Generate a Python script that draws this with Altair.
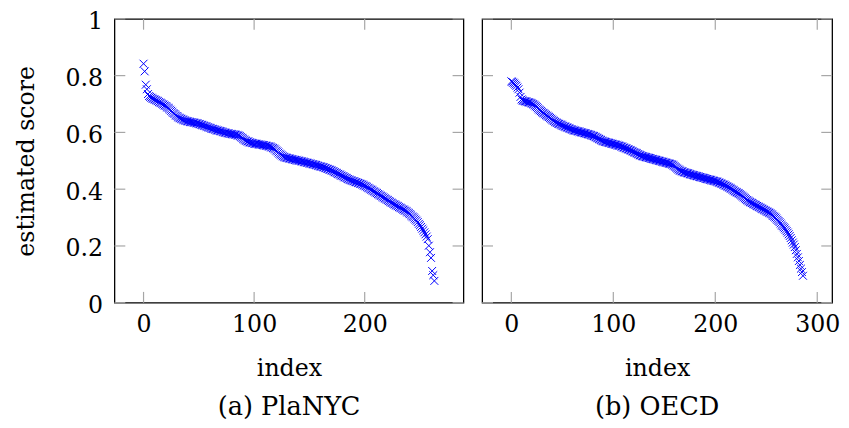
import altair as alt
import pandas as pd

# (a) PlaNYC – estimated scores, sorted (index 0..263)
planyc_scores = [
    0.842, 0.815, 0.768, 0.752, 0.735, 0.728, 0.725, 0.722, 0.720, 0.718,
    0.716, 0.714, 0.712, 0.710, 0.707, 0.705, 0.703, 0.700, 0.698, 0.695,
    0.693, 0.690, 0.687, 0.684, 0.680, 0.676, 0.672, 0.668, 0.665, 0.661,
    0.658, 0.655, 0.652, 0.650, 0.648, 0.646, 0.644, 0.643, 0.641, 0.640,
    0.639, 0.638, 0.637, 0.636, 0.636, 0.635, 0.634, 0.633, 0.632, 0.631,
    0.630, 0.629, 0.627, 0.626, 0.625, 0.623, 0.622, 0.620, 0.619, 0.617,
    0.616, 0.614, 0.613, 0.612, 0.611, 0.609, 0.608, 0.607, 0.606, 0.605,
    0.604, 0.603, 0.601, 0.600, 0.599, 0.598, 0.597, 0.596, 0.595, 0.595,
    0.594, 0.593, 0.593, 0.592, 0.591, 0.590, 0.589, 0.587, 0.584, 0.581,
    0.578, 0.575, 0.572, 0.570, 0.568, 0.567, 0.565, 0.564, 0.563, 0.562,
    0.561, 0.560, 0.560, 0.559, 0.558, 0.557, 0.557, 0.556, 0.555, 0.555,
    0.554, 0.553, 0.552, 0.551, 0.550, 0.549, 0.547, 0.545, 0.543, 0.540,
    0.536, 0.533, 0.529, 0.525, 0.522, 0.519, 0.516, 0.514, 0.512, 0.511,
    0.510, 0.509, 0.508, 0.507, 0.506, 0.505, 0.504, 0.503, 0.502, 0.502,
    0.501, 0.500, 0.499, 0.498, 0.497, 0.496, 0.495, 0.494, 0.493, 0.492,
    0.491, 0.490, 0.489, 0.488, 0.487, 0.486, 0.485, 0.484, 0.482, 0.481,
    0.480, 0.479, 0.478, 0.477, 0.475, 0.474, 0.472, 0.471, 0.469, 0.468,
    0.466, 0.464, 0.462, 0.460, 0.458, 0.456, 0.454, 0.452, 0.450, 0.448,
    0.446, 0.444, 0.442, 0.440, 0.438, 0.436, 0.434, 0.432, 0.431, 0.429,
    0.428, 0.426, 0.425, 0.424, 0.422, 0.421, 0.419, 0.418, 0.416, 0.414,
    0.412, 0.410, 0.408, 0.405, 0.403, 0.400, 0.398, 0.396, 0.393, 0.391,
    0.388, 0.386, 0.383, 0.381, 0.378, 0.376, 0.373, 0.371, 0.368, 0.366,
    0.363, 0.361, 0.358, 0.356, 0.353, 0.351, 0.348, 0.346, 0.344, 0.342,
    0.340, 0.337, 0.335, 0.333, 0.330, 0.328, 0.326, 0.324, 0.321, 0.318,
    0.315, 0.312, 0.308, 0.304, 0.301, 0.297, 0.293, 0.289, 0.284, 0.278,
    0.273, 0.267, 0.261, 0.255, 0.248, 0.241, 0.233, 0.224, 0.201, 0.178,
    0.158, 0.112, 0.097, 0.077,
]

# (b) OECD – estimated scores, sorted (index 0..286)
oecd_scores = [
    0.780, 0.778, 0.775, 0.772, 0.768, 0.764, 0.758, 0.752, 0.740, 0.725,
    0.716, 0.713, 0.711, 0.710, 0.709, 0.708, 0.707, 0.706, 0.705, 0.704,
    0.702, 0.700, 0.698, 0.695, 0.692, 0.689, 0.685, 0.681, 0.678, 0.675,
    0.672, 0.669, 0.667, 0.664, 0.661, 0.659, 0.656, 0.654, 0.651, 0.648,
    0.645, 0.642, 0.640, 0.637, 0.635, 0.633, 0.631, 0.630, 0.628, 0.626,
    0.625, 0.623, 0.621, 0.620, 0.618, 0.617, 0.615, 0.614, 0.612, 0.611,
    0.609, 0.608, 0.607, 0.606, 0.605, 0.604, 0.603, 0.602, 0.601, 0.600,
    0.599, 0.598, 0.597, 0.596, 0.595, 0.594, 0.593, 0.592, 0.591, 0.589,
    0.588, 0.587, 0.585, 0.583, 0.581, 0.579, 0.577, 0.575, 0.573, 0.571,
    0.569, 0.568, 0.567, 0.566, 0.565, 0.564, 0.563, 0.562, 0.561, 0.560,
    0.559, 0.558, 0.557, 0.556, 0.555, 0.554, 0.553, 0.552, 0.550, 0.549,
    0.547, 0.546, 0.544, 0.543, 0.541, 0.540, 0.538, 0.537, 0.535, 0.533,
    0.531, 0.529, 0.528, 0.526, 0.524, 0.522, 0.520, 0.519, 0.517, 0.516,
    0.515, 0.514, 0.513, 0.512, 0.511, 0.510, 0.509, 0.508, 0.507, 0.506,
    0.505, 0.504, 0.503, 0.502, 0.501, 0.500, 0.499, 0.498, 0.497, 0.496,
    0.495, 0.494, 0.493, 0.492, 0.491, 0.490, 0.489, 0.488, 0.486, 0.484,
    0.481, 0.478, 0.475, 0.472, 0.469, 0.467, 0.465, 0.463, 0.462, 0.460,
    0.459, 0.458, 0.457, 0.456, 0.455, 0.453, 0.452, 0.451, 0.450, 0.449,
    0.448, 0.447, 0.446, 0.445, 0.444, 0.443, 0.442, 0.441, 0.440, 0.439,
    0.438, 0.437, 0.436, 0.435, 0.434, 0.433, 0.432, 0.431, 0.430, 0.429,
    0.428, 0.427, 0.426, 0.424, 0.423, 0.421, 0.420, 0.418, 0.416, 0.415,
    0.413, 0.411, 0.409, 0.407, 0.405, 0.403, 0.401, 0.398, 0.396, 0.393,
    0.391, 0.389, 0.387, 0.385, 0.383, 0.380, 0.377, 0.374, 0.371, 0.368,
    0.365, 0.362, 0.360, 0.357, 0.355, 0.353, 0.351, 0.349, 0.347, 0.345,
    0.343, 0.341, 0.339, 0.337, 0.335, 0.333, 0.331, 0.329, 0.327, 0.325,
    0.323, 0.321, 0.319, 0.317, 0.315, 0.312, 0.309, 0.306, 0.303, 0.300,
    0.296, 0.292, 0.288, 0.284, 0.279, 0.274, 0.270, 0.266, 0.262, 0.257,
    0.252, 0.247, 0.241, 0.235, 0.228, 0.220, 0.212, 0.205, 0.196, 0.185,
    0.172, 0.160, 0.147, 0.133, 0.120, 0.108, 0.095,
]

x_ticks_a = [0, 100, 200]
x_ticks_b = [0, 100, 200, 300]
y_ticks = [0, 0.2, 0.4, 0.6, 0.8, 1]
x_domain_a = [-26.3, 289.3]
x_domain_b = [-28.6, 314.6]
titles = ["(a) PlaNYC", "(b) OECD"]

FONT = "DejaVu Serif"
FS = 24
FS_TITLE = 26
W_A, W_B, H = 354, 355, 288
TICK = 11
TICK_COLOR = "#a6a6a6"
XMARK = "M-1,-1L1,1M-1,1L1,-1"


def panel(scores, xticks, xdomain, title, width, show_y):
    df = pd.DataFrame({"index": list(range(len(scores))), "score": scores})
    xs = alt.Scale(domain=xdomain, nice=False, zero=False)
    ys = alt.Scale(domain=[0, 1], nice=False, zero=False)
    xaxis = alt.Axis(values=xticks, title="index", format="d", ticks=False,
                     domain=False, grid=False, labelPadding=10, titlePadding=21)
    if show_y:
        yaxis = alt.Axis(values=y_ticks, title="estimated score", format="~g",
                         ticks=False, domain=False, grid=False, labelOffset=3,
                         labelPadding=12, titlePadding=27)
    else:
        yaxis = None

    def X(field):
        return alt.X(field, scale=xs, axis=xaxis)

    def Y(field):
        return alt.Y(field, scale=ys, axis=yaxis)

    points = alt.Chart(df).mark_point(
        shape=XMARK, size=64, filled=False, strokeWidth=1, color="#0000ff", opacity=1
    ).encode(x=X("index:Q"), y=Y("score:Q"))

    xt = pd.DataFrame({"t": xticks})
    yt = pd.DataFrame({"t": y_ticks})
    rule = dict(color=TICK_COLOR, strokeWidth=1.2)
    bottom = alt.Chart(xt).mark_rule(**rule).encode(
        x=X("t:Q"), y=alt.value(H), y2=alt.value(H - TICK))
    top = alt.Chart(xt).mark_rule(**rule).encode(
        x=X("t:Q"), y=alt.value(0), y2=alt.value(TICK))
    left = alt.Chart(yt).mark_rule(**rule).encode(
        y=Y("t:Q"), x=alt.value(0), x2=alt.value(TICK))
    right = alt.Chart(yt).mark_rule(**rule).encode(
        y=Y("t:Q"), x=alt.value(width), x2=alt.value(width - TICK))

    return alt.layer(points, bottom, top, left, right).properties(
        width=width, height=H,
        title=alt.TitleParams(title, orient="bottom", anchor="middle", fontSize=FS_TITLE,
                              font=FONT, fontWeight="normal", color="black",
                              offset=14, baseline="top"),
    )


pa = panel(planyc_scores, x_ticks_a, x_domain_a, titles[0], W_A, True)
pb = panel(oecd_scores, x_ticks_b, x_domain_b, titles[1], W_B, False)

chart = alt.hconcat(pa, pb, spacing=15).properties(
    padding={"left": 6, "top": -2, "right": 0, "bottom": 0}
).configure_view(
    stroke="black", strokeWidth=1.3
).configure_axis(
    labelFont=FONT, labelFontSize=FS, labelColor="black",
    titleFont=FONT, titleFontSize=FS, titleColor="black", titleFontWeight="normal",
)

chart.save("out.html", embed_options={"renderer": "svg", "actions": False})
